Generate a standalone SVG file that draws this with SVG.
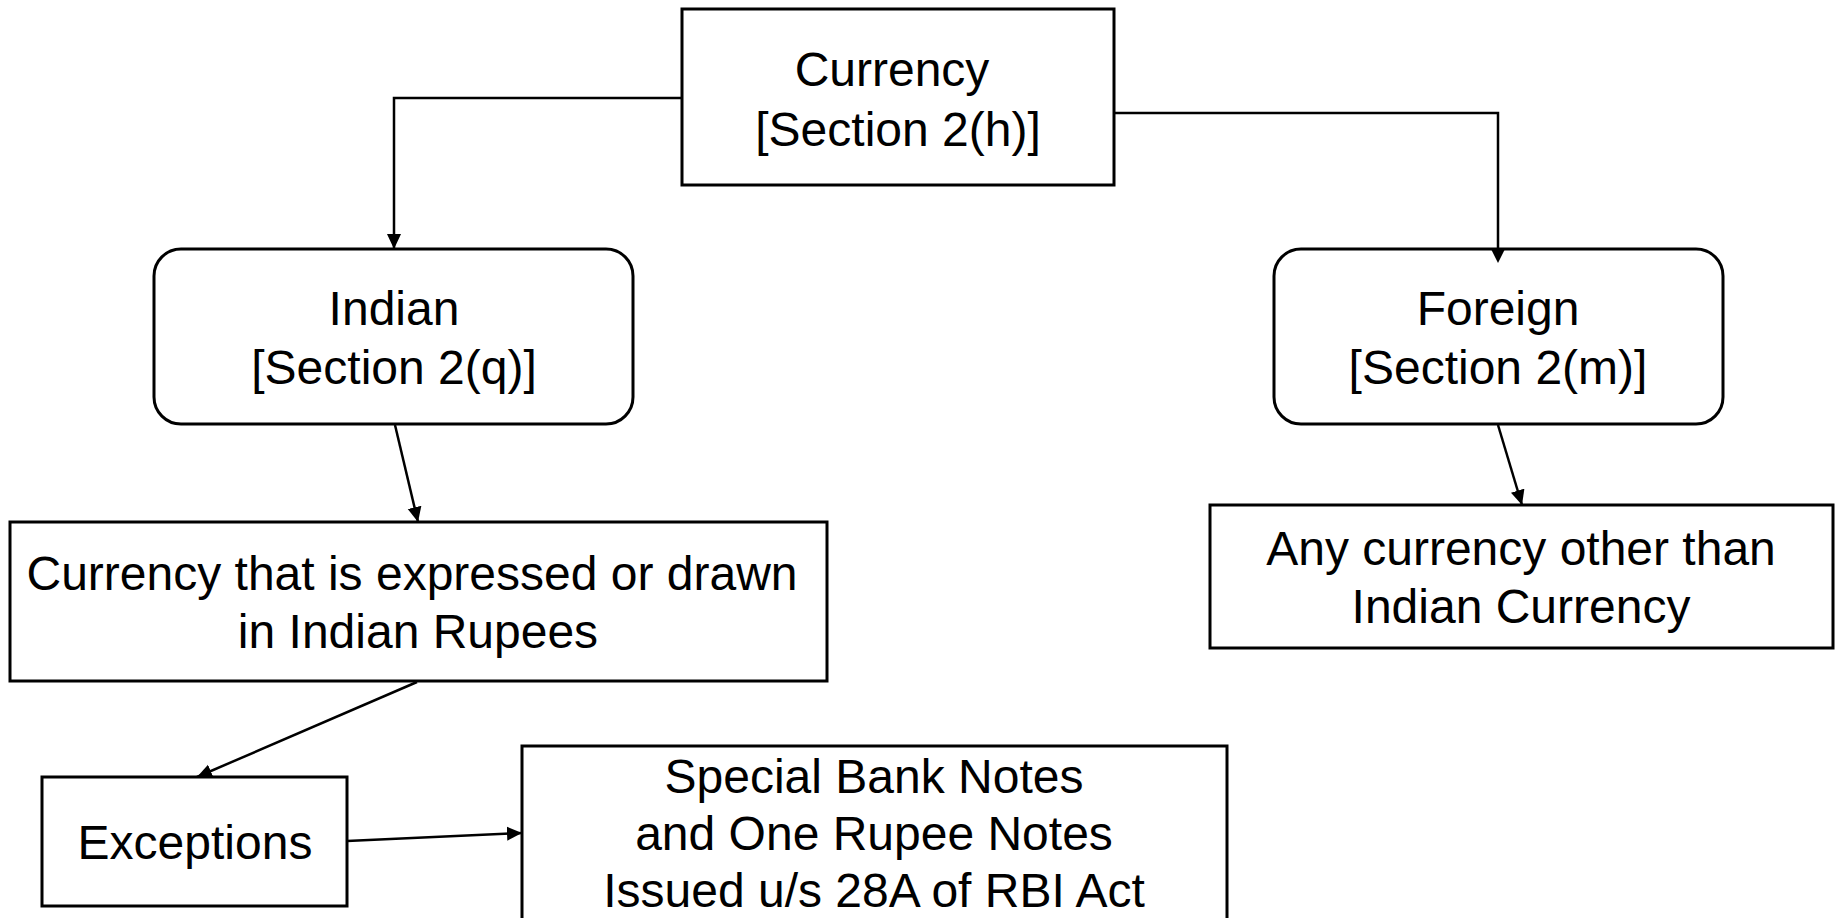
<svg xmlns="http://www.w3.org/2000/svg" width="1835" height="918" viewBox="0 0 1835 918">
  <defs>
    <marker id="arrow" markerUnits="userSpaceOnUse" markerWidth="16" markerHeight="16" viewBox="0 0 16 16" refX="15" refY="8" orient="auto">
      <path d="M0,1 L15,8 L0,15 Z" fill="#000"/>
    </marker>
    <style>
      .box { fill: #fff; stroke: #000; stroke-width: 3; }
      .conn { fill: none; stroke: #000; stroke-width: 2.5; marker-end: url(#arrow); }
      .lbl { font-family: "Liberation Sans", Arial, sans-serif; font-size: 48px; fill: #000; text-anchor: middle; }
    </style>
  </defs>
  <rect width="1835" height="918" fill="#fff"/>

  <g id="connectors">
    <path class="conn" d="M682,98 H394 V249"/>
    <path class="conn" d="M1114,113 H1498 V263"/>
    <path class="conn" d="M395,425 L418,522"/>
    <path class="conn" d="M1498,425 L1522,505"/>
    <path class="conn" d="M417,682 L197,777"/>
    <path class="conn" d="M347,841 L522,833"/>
  </g>

  <g id="currency">
    <rect class="box" x="682" y="9" width="432" height="176"/>
    <text class="lbl" x="892" y="86">Currency</text>
    <text class="lbl" x="898" y="146">[Section 2(h)]</text>
  </g>

  <g id="indian">
    <rect class="box" x="154" y="249" width="479" height="175" rx="27" ry="27"/>
    <text class="lbl" x="394" y="325">Indian</text>
    <text class="lbl" x="394" y="384">[Section 2(q)]</text>
  </g>

  <g id="foreign">
    <rect class="box" x="1274" y="249" width="449" height="175" rx="27" ry="27"/>
    <text class="lbl" x="1498" y="325">Foreign</text>
    <text class="lbl" x="1498" y="384">[Section 2(m)]</text>
  </g>
  <path d="M1491,249 L1498,263 L1505,249 Z" fill="#000"/>

  <g id="indian-currency">
    <rect class="box" x="10" y="522" width="817" height="159"/>
    <text class="lbl" x="412" y="590">Currency that is expressed or drawn</text>
    <text class="lbl" x="418" y="648">in Indian Rupees</text>
  </g>

  <g id="foreign-currency">
    <rect class="box" x="1210" y="505" width="623" height="143"/>
    <text class="lbl" x="1521" y="565">Any currency other than</text>
    <text class="lbl" x="1521" y="623">Indian Currency</text>
  </g>

  <g id="exceptions">
    <rect class="box" x="42" y="777" width="305" height="129"/>
    <text class="lbl" x="195" y="859">Exceptions</text>
  </g>

  <g id="special-notes">
    <rect class="box" x="522" y="746" width="705" height="185"/>
    <text class="lbl" x="874" y="793">Special Bank Notes</text>
    <text class="lbl" x="874" y="850">and One Rupee Notes</text>
    <text class="lbl" x="874" y="907">Issued u/s 28A of RBI Act</text>
  </g>
</svg>
